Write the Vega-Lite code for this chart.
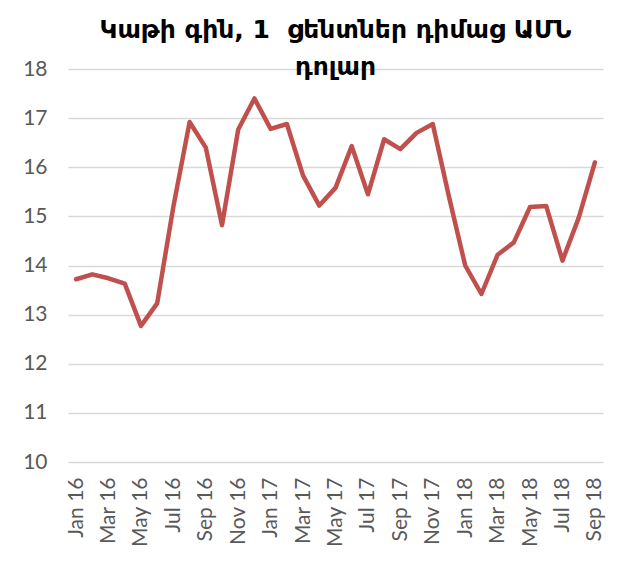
{
  "$schema": "https://vega.github.io/schema/vega-lite/v6.json",
  "width": 535,
  "height": 393,
  "autosize": "none",
  "padding": {"left": 68, "top": 69, "right": 16, "bottom": 116},
  "background": "white",
  "title": {
    "text": ["Կաթի գին, 1\u00a0 ցենտներ դիմաց ԱՄՆ", "դոլար"],
    "font": "DejaVu Sans",
    "fontSize": 25,
    "fontWeight": "bold",
    "color": "black",
    "anchor": "middle",
    "lineHeight": 37,
    "offset": -22
  },
  "config": {
    "view": {"stroke": null},
    "axis": {"labelFont": "Lato", "labelColor": "#595959", "domain": false, "ticks": false}
  },
  "data": {
    "values": [
      {"m": "Jan 16", "v": 13.72},
      {"m": "Feb 16", "v": 13.82},
      {"m": "Mar 16", "v": 13.74},
      {"m": "Apr 16", "v": 13.63},
      {"m": "May 16", "v": 12.77},
      {"m": "Jun 16", "v": 13.23},
      {"m": "Jul 16", "v": 15.2},
      {"m": "Aug 16", "v": 16.92},
      {"m": "Sep 16", "v": 16.4},
      {"m": "Oct 16", "v": 14.82},
      {"m": "Nov 16", "v": 16.77},
      {"m": "Dec 16", "v": 17.4},
      {"m": "Jan 17", "v": 16.78},
      {"m": "Feb 17", "v": 16.88},
      {"m": "Mar 17", "v": 15.83},
      {"m": "Apr 17", "v": 15.22},
      {"m": "May 17", "v": 15.58},
      {"m": "Jun 17", "v": 16.43},
      {"m": "Jul 17", "v": 15.45},
      {"m": "Aug 17", "v": 16.57},
      {"m": "Sep 17", "v": 16.37},
      {"m": "Oct 17", "v": 16.7},
      {"m": "Nov 17", "v": 16.88},
      {"m": "Dec 17", "v": 15.4},
      {"m": "Jan 18", "v": 14.0},
      {"m": "Feb 18", "v": 13.42},
      {"m": "Mar 18", "v": 14.22},
      {"m": "Apr 18", "v": 14.47},
      {"m": "May 18", "v": 15.19},
      {"m": "Jun 18", "v": 15.21},
      {"m": "Jul 18", "v": 14.1},
      {"m": "Aug 18", "v": 14.97},
      {"m": "Sep 18", "v": 16.1}
    ]
  },
  "mark": {"type": "line", "color": "#c0504d", "strokeWidth": 4.5, "strokeJoin": "round", "strokeCap": "round"},
  "encoding": {
    "x": {
      "field": "m",
      "type": "ordinal",
      "sort": null,
      "scale": {"type": "point", "padding": 0.5},
      "axis": {
        "title": null,
        "values": ["Jan 16", "Mar 16", "May 16", "Jul 16", "Sep 16", "Nov 16", "Jan 17", "Mar 17", "May 17", "Jul 17", "Sep 17", "Nov 17", "Jan 18", "Mar 18", "May 18", "Jul 18", "Sep 18"],
        "labelAngle": -90,
        "labelFontSize": 21,
        "labelPadding": 15,
        "grid": false
      }
    },
    "y": {
      "field": "v",
      "type": "quantitative",
      "scale": {"domain": [10, 18], "nice": false, "zero": false},
      "axis": {
        "title": null,
        "values": [10, 11, 12, 13, 14, 15, 16, 17, 18],
        "labelFontSize": 21,
        "labelPadding": 21,
        "grid": true,
        "gridColor": "#d9d9d9",
        "gridWidth": 1.5
      }
    }
  }
}
